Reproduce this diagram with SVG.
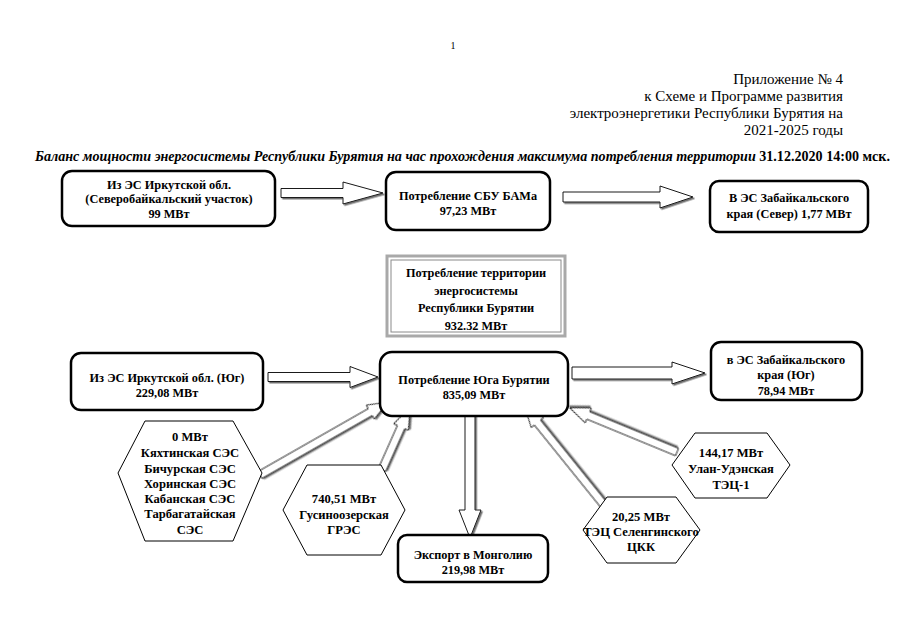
<svg xmlns="http://www.w3.org/2000/svg" width="905" height="640" viewBox="0 0 905 640">
<defs>
<filter id="sh" x="-20%" y="-50%" width="140%" height="200%"><feDropShadow dx="1.5" dy="1.5" stdDeviation="0.4" flood-color="#6d6d6d"/></filter>
</defs>
<style>
.b{font-size:12.3px;font-weight:bold;text-anchor:middle}
.h{font-size:12.6px;font-weight:bold;text-anchor:middle}
.box{fill:#fff;stroke:#000;stroke-width:2.5}
.hex{fill:#fff;stroke:#000;stroke-width:1}
.arr{fill:#fff;stroke:#000;stroke-width:0.9;filter:url(#sh)}
</style>
<rect width="905" height="640" fill="#fff"/>
<text x="453" y="49" font-family="Liberation Serif" font-size="10" text-anchor="middle">1</text>
<text x="843" y="84" font-family="Liberation Serif" font-size="15" text-anchor="end">Приложение № 4</text>
<text x="843" y="101" font-family="Liberation Serif" font-size="15" text-anchor="end">к Схеме и Программе развития</text>
<text x="843" y="118" font-family="Liberation Serif" font-size="15" text-anchor="end">электроэнергетики Республики Бурятия на</text>
<text x="843" y="135" font-family="Liberation Serif" font-size="15" text-anchor="end">2021-2025 годы</text>
<text x="35" y="161" font-family="Liberation Serif" font-size="14" font-weight="bold" textLength="855" lengthAdjust="spacingAndGlyphs"><tspan font-style="italic">Баланс мощности энергосистемы Республики Бурятия на час прохождения максимума потребления территории</tspan> 31.12.2020 14:00 мск.</text>

<g id="connectors">
<polygon class="arr" points="281,188.5 343,188.5 343,182 383,193 343,204 343,197.5 281,197.5"/>
<polygon class="arr" points="563,192 660,192 660,186 693,197 660,208 660,202 563,202"/>
<polygon class="arr" points="268,372.5 350,372.5 350,366.5 378,377 350,387.5 350,381.5 268,381.5"/>
<polygon class="arr" points="572,367 672,367 672,362 705,373 672,384 672,379 572,379"/>
<polygon class="arr" points="465,408 475,408 475,510 481,510 470,538 459,510 465,510"/>
<polygon class="arr" transform="translate(260,475) rotate(-29.7)" points="0,-4 127,-4 127,-8 147,0 127,8 127,4 0,4"/>
<polygon class="arr" transform="translate(382,470) rotate(-66)" points="0,-4 47,-4 47,-8 69,0 47,8 47,4 0,4"/>
<polygon class="arr" transform="translate(604,505) rotate(-128.9)" points="0,-4 106,-4 106,-8 126,0 106,8 106,4 0,4"/>
<polygon class="arr" transform="translate(677,452) rotate(-157.6)" points="0,-4 96,-4 96,-8 116,0 96,8 96,4 0,4"/>
</g>

<g id="irk-north">
<rect class="box" x="62" y="171" width="213" height="55" rx="10"/>
<text class="b" font-family="Liberation Serif" x="169" y="189">Из ЭС Иркутской обл.</text>
<text class="b" font-family="Liberation Serif" x="169" y="203">(Северобайкальский участок)</text>
<text class="b" font-family="Liberation Serif" x="169" y="218">99 МВт</text>
</g>
<g id="sbu-bam">
<rect class="box" x="386" y="172" width="164" height="58" rx="10"/>
<text class="b" font-family="Liberation Serif" x="468" y="200">Потребление СБУ БАМа</text>
<text class="b" font-family="Liberation Serif" x="468" y="215">97,23 МВт</text>
</g>
<g id="zab-north">
<rect class="box" x="710" y="181" width="158" height="51" rx="9"/>
<text class="b" font-family="Liberation Serif" x="789" y="202">В ЭС Забайкальского</text>
<text class="b" font-family="Liberation Serif" x="789" y="218">края (Север) 1,77 МВт</text>
</g>
<g id="total">
<rect x="387" y="256" width="178" height="80" fill="#fff" stroke="#a9a9a9" stroke-width="3"/>
<rect x="391" y="260" width="170" height="72" fill="none" stroke="#8a8a8a" stroke-width="1"/>
<text class="b" font-family="Liberation Serif" x="476" y="277">Потребление территории</text>
<text class="b" font-family="Liberation Serif" x="476" y="295">энергосистемы</text>
<text class="b" font-family="Liberation Serif" x="476" y="312">Республики Бурятии</text>
<text class="b" font-family="Liberation Serif" x="476" y="330">932.32 МВт</text>
</g>
<g id="irk-south">
<rect class="box" x="71" y="353" width="192" height="57" rx="10"/>
<text class="b" font-family="Liberation Serif" x="167" y="382">Из ЭС Иркутской обл. (Юг)</text>
<text class="b" font-family="Liberation Serif" x="167" y="397">229,08 МВт</text>
</g>
<g id="south-center">
<rect class="box" x="380" y="352" width="188" height="64" rx="12"/>
<text class="b" font-family="Liberation Serif" x="474" y="384">Потребление Юга Бурятии</text>
<text class="b" font-family="Liberation Serif" x="474" y="399">835,09 МВт</text>
</g>
<g id="zab-south">
<rect class="box" x="711" y="342" width="151" height="58" rx="10"/>
<text class="b" font-family="Liberation Serif" x="786" y="364">в ЭС Забайкальского</text>
<text class="b" font-family="Liberation Serif" x="786" y="379">края (Юг)</text>
<text class="b" font-family="Liberation Serif" x="786" y="395">78,94 МВт</text>
</g>
<g id="mongolia">
<rect class="box" x="398" y="535" width="150" height="47" rx="9"/>
<text class="b" font-family="Liberation Serif" x="473" y="559">Экспорт в Монголию</text>
<text class="b" font-family="Liberation Serif" x="473" y="574">219,98 МВт</text>
</g>
<g id="ses">
<polygon class="hex" points="145,421 233,421 262,473 233,541 145,541 118,473"/>
<text class="h" font-family="Liberation Serif" x="190" y="441">0 МВт</text>
<text class="h" font-family="Liberation Serif" x="190" y="457">Кяхтинская СЭС</text>
<text class="h" font-family="Liberation Serif" x="190" y="473">Бичурская СЭС</text>
<text class="h" font-family="Liberation Serif" x="190" y="488">Хоринская СЭС</text>
<text class="h" font-family="Liberation Serif" x="190" y="503">Кабанская СЭС</text>
<text class="h" font-family="Liberation Serif" x="190" y="518">Тарбагатайская</text>
<text class="h" font-family="Liberation Serif" x="190" y="534">СЭС</text>
</g>
<g id="gres">
<polygon class="hex" points="307,465 381,465 405,510 381,555 307,555 283,510"/>
<text class="h" font-family="Liberation Serif" x="344" y="503">740,51 МВт</text>
<text class="h" font-family="Liberation Serif" x="344" y="519">Гусиноозерская</text>
<text class="h" font-family="Liberation Serif" x="344" y="534">ГРЭС</text>
</g>
<g id="tec-ckk">
<polygon class="hex" points="607,497 676,497 700,530 676,563 607,563 583,530"/>
<text class="h" font-family="Liberation Serif" x="641" y="521">20,25 МВт</text>
<text class="h" font-family="Liberation Serif" x="641" y="536">ТЭЦ Селенгинского</text>
<text class="h" font-family="Liberation Serif" x="641" y="551">ЦКК</text>
</g>
<g id="tec-1">
<polygon class="hex" points="695,433 767,433 790,465 767,498 695,498 672,465"/>
<text class="h" font-family="Liberation Serif" x="731" y="457">144,17 МВт</text>
<text class="h" font-family="Liberation Serif" x="731" y="473">Улан-Удэнская</text>
<text class="h" font-family="Liberation Serif" x="731" y="489">ТЭЦ-1</text>
</g>
</svg>
